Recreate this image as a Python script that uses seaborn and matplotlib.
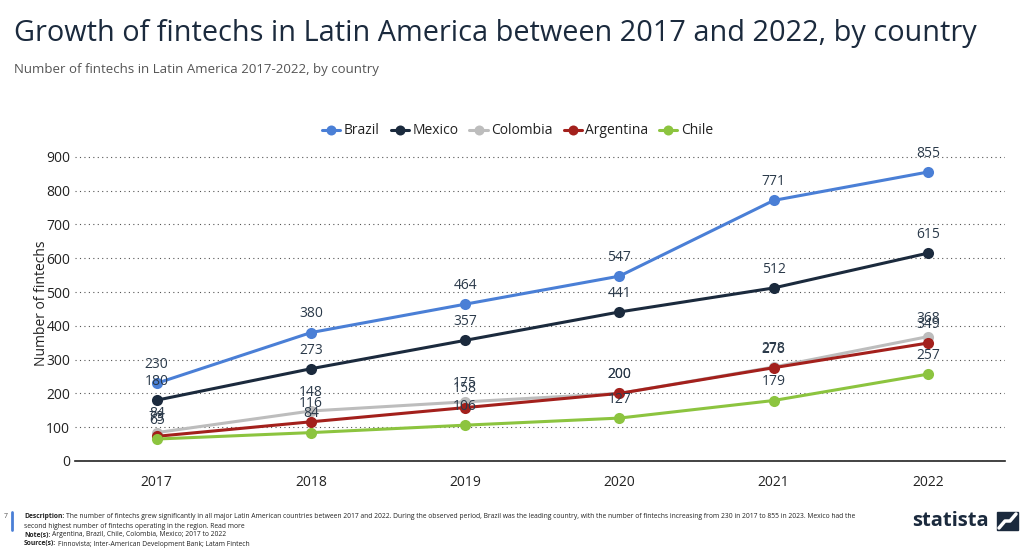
import matplotlib
matplotlib.use("Agg")
import matplotlib.pyplot as plt
import seaborn as sns
import pandas as pd

years = ["2017", "2018", "2019", "2020", "2021", "2022"]
brazil = [230, 380, 464, 547, 771, 855]
mexico = [180, 273, 357, 441, 512, 615]
colombia = [84, 148, 175, 200, 278, 368]
argentina = [73, 116, 158, 200, 276, 349]
chile = [65, 84, 106, 127, 179, 257]
countries = ["Brazil", "Mexico", "Colombia", "Argentina", "Chile"]
series = [brazil, mexico, colombia, argentina, chile]
colors = ["#4a7fd6", "#1b2a3d", "#bdbdbd", "#a3201c", "#8cc43f"]

rows = []
for c, vals in zip(countries, series):
    for i, (y, v) in enumerate(zip(years, vals)):
        rows.append({"country": c, "year": y, "x": i, "value": v})
df = pd.DataFrame(rows)

sns.set_theme(style="white")
plt.rcParams['font.family'] = ['Open Sans', 'DejaVu Sans']

fig = plt.figure(figsize=(10.24, 5.53), dpi=100)
ax = fig.add_axes([75/1024, 1-461/553, 930/1024, (461-145)/553])

sns.lineplot(data=df, x="x", y="value", hue="country", palette=colors,
             marker="o", markersize=8, markeredgewidth=0, linewidth=2.2, ax=ax,
             hue_order=countries)

for c, vals in zip(countries, series):
    for i, v in enumerate(vals):
        ax.annotate(str(v), (i, v), xytext=(0, 8), textcoords="offset points",
                    ha="center", va="bottom", fontsize=10, color="#2b3a4a")

ax.set_xlim(-0.53, 5.5)
ax.set_ylim(0, 935)
ax.set_yticks(range(0, 901, 100))
ax.set_xticks(range(len(years)))
ax.set_xticklabels(years)
ax.tick_params(axis="both", labelsize=10, colors="#222222", length=0)
ax.tick_params(axis="x", pad=10)
ax.grid(axis="y", linestyle=(0, (1, 3)), color="#555555", linewidth=0.8)
for s in ["top", "right", "left"]:
    ax.spines[s].set_visible(False)
ax.spines["bottom"].set_color("#222222")
ax.spines["bottom"].set_linewidth(1.2)
ax.set_xlabel("")
ax.set_ylabel("Number of fintechs", fontsize=10, color="#222222", labelpad=-2)

leg = ax.legend(loc="center", bbox_to_anchor=(0.476, 1.0 + (145-131)/316), ncol=5, frameon=False,
                fontsize=10, handlelength=1.3, columnspacing=0.8, handletextpad=0.25,
                markerscale=0.9)
for t in leg.get_texts():
    t.set_color("#222222")

fig.text(14/1024, 1-33/553, "Growth of fintechs in Latin America between 2017 and 2022, by country",
         fontsize=20.8, color="#1b2a3d", va="center", ha="left")
fig.text(14/1024, 1-70/553, "Number of fintechs in Latin America 2017-2022, by country",
         fontsize=9.5, color="#555555", va="center", ha="left")

fig.add_artist(plt.Line2D([12/1024, 12/1024], [1-530/553, 1-512/553], color="#4a7fd6", linewidth=2))
fig.text(4/1024, 1-517/553, "7", fontsize=5, color="#555555", va="center")

fig.canvas.draw()
renderer = fig.canvas.get_renderer()
FS = 4.9

def labeled(x, y, bold, rest):
    t = fig.text(x, y, bold, fontsize=FS, fontweight="bold", color="#222222", va="center", ha="left")
    bb = t.get_window_extent(renderer=renderer)
    fig.text(bb.x1 / 1024 + 2/1024, y, rest, fontsize=FS, color="#222222", va="center", ha="left")

labeled(24/1024, 1-517/553, "Description:",
        "The number of fintechs grew significantly in all major Latin American countries between 2017 and 2022. "
        "During the observed period, Brazil was the leading country, with the number of fintechs increasing from 230 in 2017 to 855 in 2023. Mexico had the")
fig.text(24/1024, 1-526/553, "second highest number of fintechs operating in the region. Read more",
         fontsize=FS, color="#222222", va="center")
labeled(24/1024, 1-535/553, "Note(s):", "Argentina, Brazil, Chile, Colombia, Mexico; 2017 to 2022")
labeled(24/1024, 1-544/553, "Source(s):", "Finnovista; Inter-American Development Bank; Latam Fintech")

fig.text(912/1024, 1-521/553, "statista", fontsize=14.5, fontweight="bold", color="#1b2a3d", va="center")
fig.patches.append(plt.Rectangle((997/1024, 1-530/553), 21/1024, 18/553, transform=fig.transFigure,
                                 color="#1b2a3d"))
fig.add_artist(plt.Line2D([999/1024, 1005/1024, 1010/1024, 1016/1024],
                          [1-528/553, 1-521/553, 1-521/553, 1-514/553], color="white", linewidth=2.5))

fig.savefig("out.png", dpi=100)
